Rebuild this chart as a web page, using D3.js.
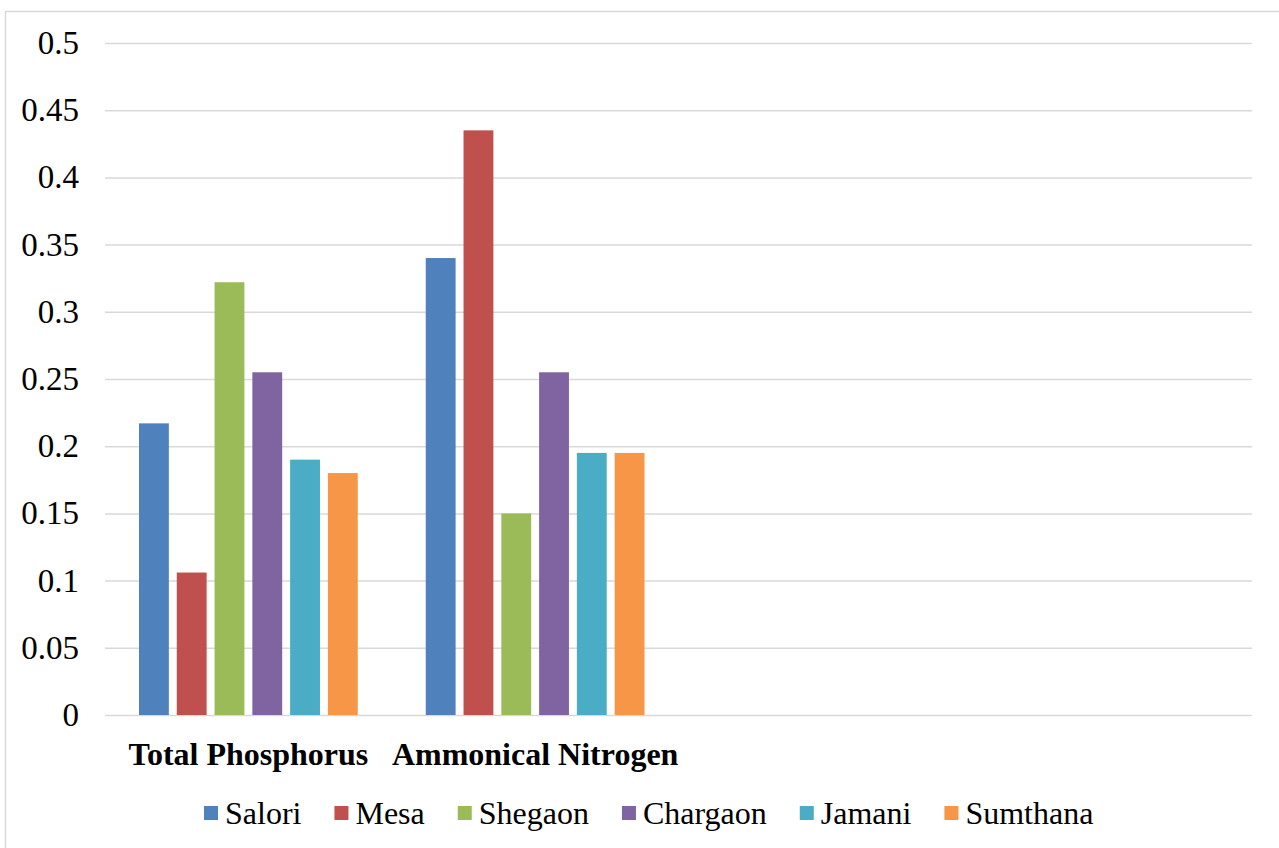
<!DOCTYPE html>
<html><head><meta charset="utf-8">
<script src="https://cdn.jsdelivr.net/npm/d3@7"></script>
<style>html,body{margin:0;padding:0;background:#fff;}svg{display:block;}</style>
</head><body>
<svg id="chart" width="1279" height="848"></svg>
<script>
const categories = ["Total Phosphorus", "Ammonical Nitrogen", "", ""];
const series = ["Salori", "Mesa", "Shegaon", "Chargaon", "Jamani", "Sumthana"];
const salori   = [0.217, 0.340];
const mesa     = [0.106, 0.435];
const shegaon  = [0.322, 0.150];
const chargaon = [0.255, 0.255];
const jamani   = [0.190, 0.195];
const sumthana = [0.180, 0.195];
const colors = ["#4f81bd", "#c0504d", "#9bbb59", "#8064a2", "#4bacc6", "#f79646"];
const yTicks = [0, 0.05, 0.1, 0.15, 0.2, 0.25, 0.3, 0.35, 0.4, 0.45, 0.5];

const values = [salori, mesa, shegaon, chargaon, jamani, sumthana];
const svg = d3.select("#chart");
const font = "'Liberation Serif', 'Times New Roman', serif";

// outer border
svg.append("rect").attr("x", 5.5).attr("y", 11.5).attr("width", 1290).attr("height", 860)
  .attr("fill", "none").attr("stroke", "#d9d9d9").attr("stroke-width", 1.5);

const pL = 105, pR = 1252, pT = 43, pB = 715;
const y = d3.scaleLinear().domain([0, 0.5]).range([pB, pT]);
const x0 = d3.scaleBand().domain(d3.range(categories.length)).range([pL, pR]).padding(0);
const x1 = d3.scaleBand().domain(series).range([0, x0.bandwidth()]).paddingInner(0.21).paddingOuter(0.9);

// gridlines
const yAxis = d3.axisLeft(y).tickValues(yTicks).tickSize(-(pR - pL)).tickPadding(26)
  .tickFormat(d => String(+d.toFixed(2)));
const gy = svg.append("g").attr("transform", `translate(${pL},0)`).call(yAxis);
gy.select(".domain").remove();
gy.selectAll(".tick line").attr("stroke", "#d9d9d9").attr("stroke-width", 1.5);
gy.selectAll(".tick text").attr("font-family", font).attr("font-size", 33).attr("fill", "#000");

// bars
const groups = svg.append("g").selectAll("g").data(series).join("g").attr("fill", (d, i) => colors[i]);
groups.selectAll("rect").data((s, i) => values[i].map((v, c) => ({s, v, c})))
  .join("rect")
  .attr("x", d => x0(d.c) + x1(d.s))
  .attr("width", x1.bandwidth())
  .attr("y", d => y(d.v))
  .attr("height", d => y(0) - y(d.v));

// category labels
const xAxis = d3.axisBottom(x0).tickSize(0).tickPadding(21).tickFormat(i => categories[i]);
const gx = svg.append("g").attr("transform", `translate(0,${pB})`).call(xAxis);
gx.select(".domain").remove();
gx.selectAll(".tick text").attr("font-family", font).attr("font-size", 32)
  .attr("font-weight", "bold").attr("fill", "#000").attr("dy", "0.9em");

// legend
const leg = svg.append("g").attr("transform", "translate(0,813)");
let lx = 204;
series.forEach((s, i) => {
  leg.append("rect").attr("x", lx).attr("y", -7).attr("width", 14).attr("height", 14).attr("fill", colors[i]);
  const t = leg.append("text").attr("x", lx + 21).attr("y", 0).attr("dy", "0.35em")
    .attr("font-family", font).attr("font-size", 32).attr("fill", "#000").text(s);
  lx += 21 + t.node().getComputedTextLength() + 33;
});
</script>
</body></html>
